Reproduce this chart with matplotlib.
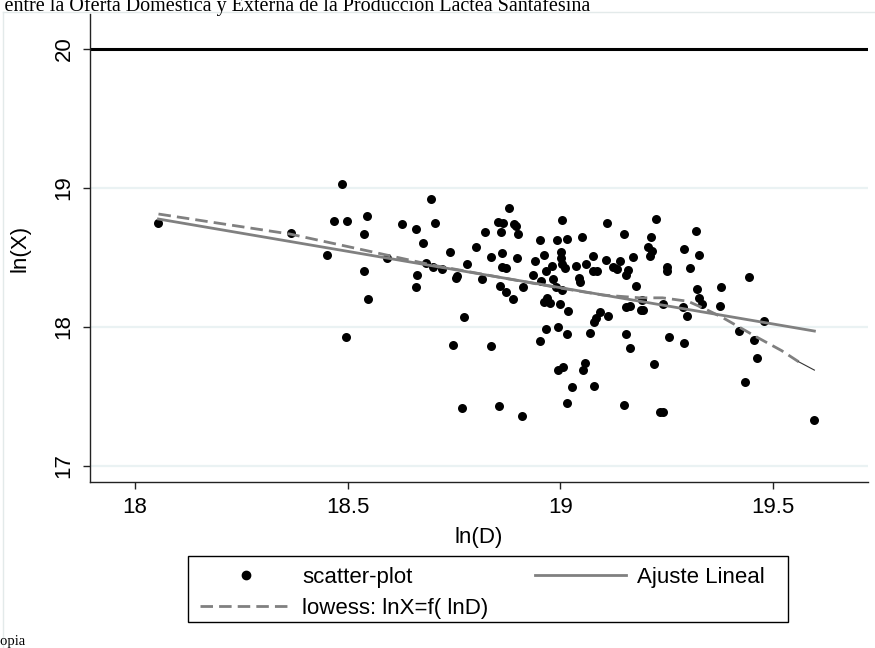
import matplotlib.pyplot as plt
from matplotlib.lines import Line2D
from matplotlib.patches import Rectangle

# ln(D) / ln(X) pairs
ln_d = [18.055, 18.487, 18.468, 18.499, 18.545, 18.366, 18.538, 18.450, 18.539, 18.548,
        18.496,
        18.696, 18.628, 18.660, 18.706, 18.677, 18.740, 18.593, 18.683, 18.701, 18.721,
        18.663, 18.661, 18.757, 18.755, 18.780, 18.801, 18.823, 18.854, 18.864, 18.860,
        18.880, 18.837, 18.863, 18.862, 18.873, 18.816, 18.859, 18.872, 18.774, 18.747,
        18.836, 18.768, 18.855,
        18.891, 18.896, 18.901, 18.898, 18.911, 18.888, 19.004, 19.109, 19.149, 18.953,
        18.992, 19.015, 19.050, 18.939, 18.961, 19.002, 19.002, 18.979, 19.003, 19.011,
        18.965, 18.936, 18.954, 18.983, 19.037, 19.060, 19.076, 19.077, 19.086, 19.044,
        19.047, 19.106, 19.124, 19.134, 19.140, 19.171, 19.159, 19.154, 19.177, 18.989,
        19.003, 18.962, 18.969, 18.975, 18.999, 19.018, 19.094, 19.083, 19.079, 19.112,
        19.155, 19.163, 18.995, 18.965, 18.953, 19.015, 19.069, 19.154, 19.163, 19.058,
        19.054, 19.005, 18.995, 19.028, 19.079, 19.015, 19.149, 18.909,
        19.224, 19.318, 19.213, 19.206, 19.216, 19.210, 19.290, 19.325, 19.250, 19.250,
        19.304, 19.444, 19.320, 19.377, 19.325, 19.332, 19.191, 19.195, 19.190, 19.242,
        19.289, 19.297, 19.376, 19.479, 19.419, 19.455, 19.461, 19.435, 19.255, 19.291,
        19.221, 19.235, 19.242, 19.597]
ln_x = [18.746, 19.029, 18.765, 18.765, 18.801, 18.678, 18.669, 18.516, 18.403, 18.199,
        17.926,
        18.919, 18.739, 18.705, 18.746, 18.602, 18.537, 18.499, 18.463, 18.429, 18.420,
        18.374, 18.286, 18.369, 18.355, 18.451, 18.576, 18.686, 18.758, 18.750, 18.686,
        18.858, 18.504, 18.530, 18.429, 18.424, 18.343, 18.295, 18.250, 18.072, 17.873,
        17.866, 17.419, 17.432,
        18.740, 18.725, 18.667, 18.499, 18.290, 18.199, 18.770, 18.746, 18.669, 18.626,
        18.628, 18.633, 18.650, 18.475, 18.518, 18.537, 18.500, 18.439, 18.451, 18.427,
        18.401, 18.374, 18.331, 18.343, 18.439, 18.451, 18.511, 18.403, 18.403, 18.350,
        18.324, 18.482, 18.429, 18.415, 18.477, 18.506, 18.410, 18.376, 18.295, 18.290,
        18.266, 18.182, 18.206, 18.175, 18.165, 18.117, 18.106, 18.063, 18.038, 18.079,
        18.142, 18.151, 18.002, 17.983, 17.897, 17.947, 17.955, 17.947, 17.847, 17.743,
        17.691, 17.714, 17.691, 17.566, 17.578, 17.451, 17.437, 17.360,
        18.775, 18.691, 18.650, 18.573, 18.549, 18.511, 18.563, 18.516, 18.434, 18.405,
        18.424, 18.358, 18.273, 18.286, 18.206, 18.165, 18.194, 18.122, 18.125, 18.163,
        18.146, 18.081, 18.151, 18.043, 17.969, 17.906, 17.775, 17.604, 17.926, 17.885,
        17.736, 17.386, 17.391, 17.331]

# linear fit (end points) and lowess curve as drawn
fit_d = [18.055, 19.597]
fit_x = [18.777, 17.971]
lowess_d = [18.055, 18.20, 18.364, 18.545, 18.70, 18.88, 19.00, 19.10, 19.187, 19.24,
            19.30, 19.34, 19.38, 19.42, 19.46, 19.52, 19.56, 19.597]
lowess_x = [18.813, 18.745, 18.669, 18.549, 18.445, 18.345, 18.28, 18.23, 18.21, 18.21,
            18.185, 18.13, 18.07, 18.00, 17.93, 17.83, 17.75, 17.69]

x_ticks = [18, 18.5, 19, 19.5]
x_tick_labels = ["18", "18.5", "19", "19.5"]
y_ticks = [17, 18, 19, 20]
y_tick_labels = ["17", "18", "19", "20"]

plt.rcParams['font.family'] = ['Liberation Sans', 'DejaVu Sans']

W, H = 875, 648
fig = plt.figure(figsize=(8.75, 6.48), dpi=100)
fig.patch.set_facecolor('white')
ax = fig.add_axes([90 / W, 1 - 482 / H, (868 - 90) / W, (482 - 14) / H])

# light border of the graph region (cut by the image edges)
border = '#E3EAEA'
fig.add_artist(Line2D([3 / W, 3 / W], [0, 1 - 12 / H], transform=fig.transFigure,
                      color=border, lw=1))
fig.add_artist(Line2D([3 / W, 1], [1 - 12 / H, 1 - 12 / H], transform=fig.transFigure,
                      color=border, lw=1))

# grid and reference line
for t in y_ticks[:-1]:
    ax.axhline(t, color='#EAF2F3', lw=1.6, zorder=0)
ax.axhline(20, color='black', lw=2.2, zorder=1)

ax.scatter(ln_d, ln_x, s=42, color='black', linewidths=0, zorder=3)
ax.plot(fit_d, fit_x, color='#808080', lw=2, zorder=4)
ax.plot(lowess_d[:-1], lowess_x[:-1], color='#808080', lw=2, dashes=(4.5, 2.2), zorder=4)
# the last bit of the lowess curve shows as a thin dark stroke
ax.plot(lowess_d[-2:], lowess_x[-2:], color='#333333', lw=0.8, zorder=4)

ax.set_xlim(17.894, 19.723)
ax.set_ylim(16.885, 20.252)
ax.set_xticks(x_ticks)
ax.set_xticklabels(x_tick_labels, fontsize=16)
ax.set_yticks(y_ticks)
ax.set_yticklabels(y_tick_labels, fontsize=16, rotation=90, va='center')
ax.tick_params(axis='both', length=5, width=1, color='#222222', pad=6)

for side in ['top', 'right']:
    ax.spines[side].set_visible(False)
for side in ['left', 'bottom']:
    ax.spines[side].set_color('#222222')
    ax.spines[side].set_linewidth(1)

ax.set_xlabel("ln(D)", fontsize=16, labelpad=6)
ax.set_ylabel("ln(X)", fontsize=16, labelpad=17)

# legend: box drawn by hand, entries placed inside it
fig.add_artist(Rectangle((188 / W, 1 - 622 / H), 600 / W, 66 / H, transform=fig.transFigure,
                         facecolor='white', edgecolor='black', lw=1, zorder=5))
h_sc = Line2D([], [], marker='o', ls='none', color='black', markersize=6)
h_lo = Line2D([], [], color='#808080', lw=2, dashes=(4.5, 2.2))
h_fit = Line2D([], [], color='#808080', lw=2)
leg = fig.legend(handles=[h_sc, h_lo, h_fit],
                 labels=["scatter-plot", "lowess: lnX=f( lnD)", "Ajuste Lineal"],
                 ncol=2, loc='upper left', bbox_to_anchor=(200 / W, 1 - 567 / H),
                 fontsize=16, frameon=False, handlelength=4.1, columnspacing=2.1,
                 borderpad=0, borderaxespad=0, labelspacing=0.45, handletextpad=0.5)
leg.set_zorder(6)

# title and source, both cut by the image edges
fig.text(590 / W, 1 - 11 / H,
         "Relación entre la Oferta Doméstica y Externa de la Producción Láctea Santafesina",
         family='Liberation Serif', fontsize=14.5, ha='right', va='baseline')
fig.text(25 / W, 1 - 645 / H, "Fuente: Elaboración propia",
         family='Liberation Serif', fontsize=10.5, ha='right', va='baseline')

fig.savefig("out.png", dpi=100)
